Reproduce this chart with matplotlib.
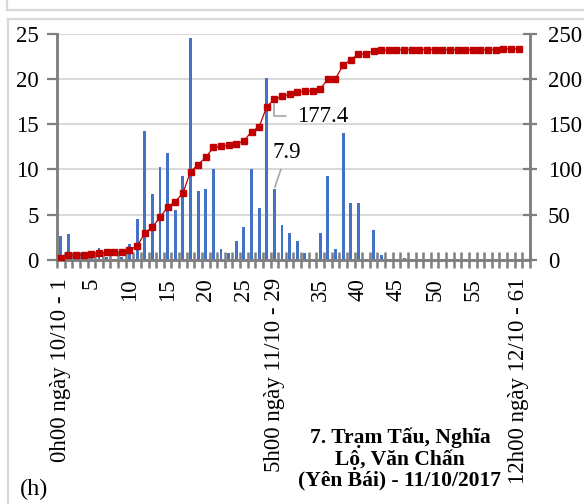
# -*- coding: utf-8 -*-
"""
Rainfall per step (bars) and cumulative rainfall (line), Tram Tau station
"""

import matplotlib.pyplot as plt
import numpy as np
from matplotlib.lines import Line2D

plt.rcParams['font.family'] = ['Liberation Serif', 'DejaVu Serif']

# time steps 1..61
steps = list(range(1, 62))

# rainfall per step (mm), left axis
rain = [2.7, 2.9, 0.1, 0.3, 0.4, 1.3, 0.3, 0.1, 0.3, 1.8,
        4.5, 14.3, 7.3, 10.3, 11.8, 5.5, 9.3, 24.5, 7.6, 7.8,
        10.1, 1.2, 0.8, 2.1, 3.6, 10.0, 5.7, 20.1, 7.9, 3.9,
        3.0, 2.1, 0.8, 0.0, 3.0, 9.3, 1.2, 14.0, 6.3, 6.3,
        0.0, 3.3, 0.6, 0.0, 0.0, 0.2, 0.0, 0.0, 0.0, 0.0,
        0.0, 0.0, 0.0, 0.0, 0.0, 0.0, 0.0, 0.0, 0.1, 0.1,
        0.0]

# cumulative rainfall (mm), right axis
cumul = [2.7, 5.6, 5.7, 6.0, 7.0, 8.2, 8.4, 8.5, 8.9, 11.3,
         15.1, 29.7, 36.3, 47.3, 58.3, 64.6, 73.7, 97.7, 105.4, 113.4,
         124.4, 125.5, 127.0, 128.1, 131.8, 141.7, 147.2, 169.5, 177.4, 180.8,
         183.0, 185.4, 186.6, 186.8, 189.3, 199.5, 200.4, 215.0, 221.4, 227.4,
         227.6, 231.3, 231.7, 232.0, 232.2, 232.3, 232.4, 232.4, 232.4, 232.4,
         232.4, 232.4, 232.4, 232.4, 232.4, 232.4, 232.4, 232.5, 233.4, 233.5,
         233.5]

tick_pos = [1, 5, 10, 15, 20, 25, 29, 35, 40, 45, 50, 55, 61]
tick_labels = ['0h00 ngày 10/10 - 1', '5', '10', '15', '20', '25',
               '5h00 ngày 11/10 - 29', '35', '40', '45', '50', '55',
               '12h00 ngày 12/10 - 61']

title_text = '7. Trạm Tấu, Nghĩa\nLộ, Văn Chấn\n(Yên Bái) - 11/10/2017'

axis_grey = '#7F7F7F'
grid_grey = '#D9D9D9'

fig = plt.figure(figsize=(5.84, 5.04), dpi=100)

# chart frames
for xs, ys in [([0.012, 0.012], [1.0, 0.980]), ([0.012, 1.0], [0.980, 0.980]),
               ([0.014, 1.0], [0.962, 0.962]), ([0.014, 0.014], [0.962, 0.0])]:
    fig.add_artist(Line2D(xs, ys, color=grid_grey, lw=1.6))

ax = fig.add_axes([0.0976, 0.4841, 0.8099, 0.4490])
ax2 = ax.twinx()

ax.bar(steps, rain, width=0.38, color='#4472C4', zorder=2)
ax2.plot(steps, cumul, color='#C00000', lw=0.9, marker='s', markersize=4.4, zorder=3)

ax.set_xlim(0.5, 62.5)
ax.set_ylim(0, 25)
ax2.set_ylim(0, 250)
ax.set_yticks(np.arange(0, 26, 5))
ax2.set_yticks(np.arange(0, 251, 50))
ax.yaxis.grid(True, color=grid_grey, lw=1.5)
ax.set_axisbelow(True)

ax.set_xticks(tick_pos)
ax.set_xticklabels(tick_labels, rotation=90, fontsize=16.5, va='top', ha='center')
ax.set_xticks(np.arange(0.5, 63, 1), minor=True)
ax.tick_params(axis='x', which='major', length=0, pad=13)
ax.tick_params(axis='x', which='minor', direction='inout', length=11, width=1.8, color=axis_grey)
ax.tick_params(axis='y', direction='out', length=7, width=1.6, color=axis_grey, labelsize=16.5, pad=6)
ax2.tick_params(axis='y', direction='inout', length=10, width=1.6, color=axis_grey, labelsize=16.5, pad=8)

for a in (ax, ax2):
    a.spines['top'].set_visible(False)
    for s in ('left', 'right', 'bottom'):
        a.spines[s].set_color(axis_grey)
        a.spines[s].set_linewidth(1.8)

# data labels
ax2.annotate('177.4', xy=(29, 177.4), xytext=(35.3, 159), fontsize=16.5,
             ha='center', va='center',
             arrowprops=dict(arrowstyle='-', color='#A6A6A6', lw=1.2,
                             connectionstyle='angle,angleA=0,angleB=90,rad=0',
                             shrinkA=6, shrinkB=3))
ax.annotate('7.9', xy=(29, 7.9), xytext=(30.6, 11.9), fontsize=16.5,
            ha='center', va='center',
            arrowprops=dict(arrowstyle='-', color='#A6A6A6', lw=1.2,
                            shrinkA=3, shrinkB=1))

fig.text(400 / 584, 1 - 459 / 504, title_text, fontsize=15.5, fontweight='bold',
         ha='center', va='center', linespacing=1.05)
fig.text(20 / 584, 1 - 489 / 504, '(h)', fontsize=17.5, ha='left', va='center')

plt.savefig('out.png', dpi=100)
